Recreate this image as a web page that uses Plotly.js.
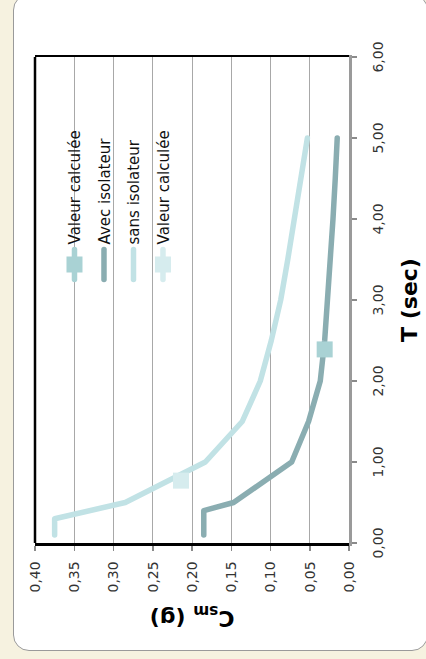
<!DOCTYPE html>
<html>
<head>
<meta charset="utf-8">
<script src="https://cdn.plot.ly/plotly-3.0.1.min.js"></script>
<style>
html,body{margin:0;padding:0;width:426px;height:659px;overflow:hidden;background:#f6f2e0;}
#frame{position:absolute;left:13px;top:-6px;width:415px;height:657px;box-sizing:border-box;border:1.5px solid #9a9a9a;border-radius:16px;background:#ffffff;}
#chart{position:absolute;left:0;top:0;width:659px;height:426px;transform-origin:0 0;transform:translateY(659px) rotate(-90deg);}
.js-line{stroke-linecap:round !important;stroke-linejoin:round !important;}
</style>
</head>
<body>
<div id="frame"></div>
<div id="chart"></div>
<script>
// Period T (sec) and spectral coefficient Csm (g)
const T_avec   = [0.1, 0.4, 0.5, 1.0, 1.5, 2.0, 2.5, 3.0, 3.5, 4.0, 4.5, 5.0];
const Csm_avec = [0.185, 0.185, 0.147, 0.073, 0.0515, 0.0366, 0.031, 0.027, 0.0234, 0.0204, 0.0175, 0.015];
const T_sans   = [0.1, 0.3, 0.5, 1.0, 1.5, 2.0, 2.5, 3.0, 3.5, 4.0, 4.5, 5.0];
const Csm_sans = [0.375, 0.375, 0.285, 0.183, 0.136, 0.113, 0.099, 0.087, 0.078, 0.070, 0.061, 0.053];
const T_calc_avec   = [2.39];
const Csm_calc_avec = [0.031];
const T_calc_sans   = [0.77];
const Csm_calc_sans = [0.214];
const seriesNames = ['Valeur calculée', 'Avec isolateur', 'sans isolateur', 'Valeur calculée'];
const xTickVals = [0, 1, 2, 3, 4, 5, 6];
const yTickVals = [0, 0.05, 0.10, 0.15, 0.20, 0.25, 0.30, 0.35, 0.40];

const FONT = 'DejaVu Sans';
const traces = [
  {x: T_avec, y: Csm_avec, name: seriesNames[1], mode: 'lines', legendrank: 2, legendgroup: 'b',
   line: {color: '#8aadb1', width: 5.5}},
  {x: T_sans, y: Csm_sans, name: seriesNames[2], mode: 'lines', legendrank: 3, legendgroup: 'c',
   line: {color: '#c1e2e5', width: 5.5}},
  {x: T_calc_avec, y: Csm_calc_avec, name: seriesNames[0], mode: 'lines+markers', legendrank: 1, legendgroup: 'a',
   line: {color: '#a9d2d4', width: 5.5}, marker: {symbol: 'square', size: 16, color: '#a9d2d4', line: {width: 0}}},
  {x: T_calc_sans, y: Csm_calc_sans, name: seriesNames[3], mode: 'lines+markers', legendrank: 4, legendgroup: 'd',
   line: {color: '#d6ecee', width: 5.5}, marker: {symbol: 'square', size: 16, color: '#d6ecee', line: {width: 0}}}
];

const layout = {
  width: 659, height: 426,
  margin: {l: 116, r: 57, t: 35, b: 77},
  paper_bgcolor: 'rgba(0,0,0,0)',
  plot_bgcolor: '#ffffff',
  separators: ', ',
  font: {family: FONT, size: 14, color: '#333333'},
  showlegend: true,
  legend: {x: 0.532, y: 0.926, xanchor: 'left', yanchor: 'top', bgcolor: 'rgba(0,0,0,0)',
           traceorder: 'grouped', tracegroupgap: 7, font: {family: FONT, size: 15, color: '#111111'}},
  xaxis: {
    range: [0, 6], tickvals: xTickVals, tickformat: '.2f',
    showgrid: false, zeroline: false,
    showline: true, linecolor: '#9a9a9a', linewidth: 2.5,
    ticks: 'outside', ticklen: 5, tickcolor: '#8a8a8a', tickwidth: 1.5,
    ticklabelstandoff: 10,
    tickfont: {family: FONT, size: 14, color: '#333333'},
    title: {text: 'T (sec)', standoff: 17, font: {family: FONT, size: 22, color: '#000000', weight: 'bold'}}
  },
  yaxis: {
    range: [0, 0.40], tickvals: yTickVals, tickformat: '.2f',
    showgrid: true, gridcolor: '#a8a8a8', gridwidth: 1, zeroline: false,
    showline: true, linecolor: '#000000', linewidth: 2.5, mirror: true,
    ticks: 'outside', ticklen: 5, tickcolor: '#8a8a8a', tickwidth: 1.5,
    ticklabelstandoff: 8,
    tickfont: {family: FONT, size: 14, color: '#333333'},
    title: {text: 'C<sub>sm</sub> (g)', standoff: 12, font: {family: FONT, size: 22, color: '#000000', weight: 'bold'}}
  },
  shapes: [
    {type: 'line', xref: 'paper', yref: 'paper', x0: 0, x1: 1, y0: 1, y1: 1,
     line: {color: '#000000', width: 2.5}, layer: 'above'}
  ]
};

Plotly.newPlot('chart', traces, layout, {staticPlot: true, displayModeBar: false});
</script>
</body>
</html>
